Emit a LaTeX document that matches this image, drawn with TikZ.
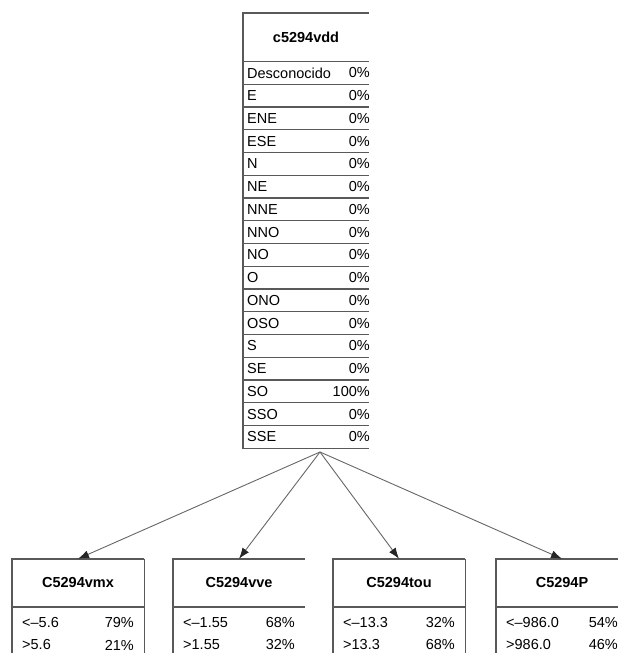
\documentclass[tikz,border=0pt]{standalone}
\usepackage{fontspec}
\setmainfont{Liberation Sans}
\usetikzlibrary{arrows.meta}
\begin{document}
\begin{tikzpicture}[x=1pt,y=1pt,
  frame/.style={draw=black!65, line width=1.3pt},
  rowtxt/.style={inner sep=0pt, font=\fontsize{14.5}{16}\selectfont, text=black},
  pct/.style={rowtxt, anchor=east},
  lbl/.style={rowtxt, anchor=west},
  head/.style={inner sep=0pt, font=\bfseries\fontsize{14.5}{17}\selectfont, text=black},
  link/.style={draw=black!60, line width=0.9pt, -{Latex[length=11pt,width=8pt,color=black!85]}}
]
\useasboundingbox (0,0) rectangle (618,-653);
\clip (0,0) rectangle (618,-653);

% parent node table: c5294vdd
\draw[frame] (369,-13) -- (243,-13) -- (243,-448.25) -- (369,-448.25);
\draw[frame] (243,-61.5) -- (369,-61.5);
\node[head, minimum width=126, minimum height=48.5] (vdd) at (306,-37.25) {c5294vdd};
\foreach \lab/\p [count=\i from 0] in {Desconocido/0\%, E/0\%, ENE/0\%, ESE/0\%, N/0\%, NE/0\%,
    NNE/0\%, NNO/0\%, NO/0\%, O/0\%, ONO/0\%, OSO/0\%, S/0\%, SE/0\%, SO/100\%, SSO/0\%, SSE/0\%} {
  \draw[frame] (243,{-61.5-22.75*(\i+1)}) -- (369,{-61.5-22.75*(\i+1)});
  \node[lbl] (r\i) at (247,{-61.5-22.75*(\i+0.5)}) {\lab};
  \node[pct] (p\i) at (370,{-61.5-22.75*(\i+0.5)}) {\p};
}
\coordinate (fan) at (320,-452);

% child node tables
\foreach \n/\x/\t/\a/\pa/\b/\pb in {
    vmx/12/C5294vmx/<–5.6/79\%/>5.6/21\%,
    vve/173/C5294vve/<–1.55/68\%/>1.55/32\%,
    tou/333/C5294tou/<–13.3/32\%/>13.3/68\%,
    P/496/C5294P/<–986.0/54\%/>986.0/46\%} {
  \draw[frame] (\x+132,-559) -- (\x,-559) -- (\x,-660);
  \draw[frame] (\x,-607) -- (\x+132,-607);
  \node[head, minimum width=132, minimum height=48] (\n) at (\x+66,-583) {\t};
  \node[lbl] (\n a) at (\x+10,-623) {\a};
  \node[pct] (\n pa) at (\x+122,-623) {\pa};
  \node[lbl] (\n b) at (\x+10,-645) {\b};
  \node[pct] (\n pb) at (\x+122,-645) {\pb};
}
\draw[frame] (vmx.north east) -- ++(0,-101);
\draw[frame] (tou.north east) -- ++(0,-101);

% links from parent to children
\foreach \n in {vmx,vve,tou,P}
  \draw[link] (fan) -- (\n.north);
\end{tikzpicture}
\end{document}
